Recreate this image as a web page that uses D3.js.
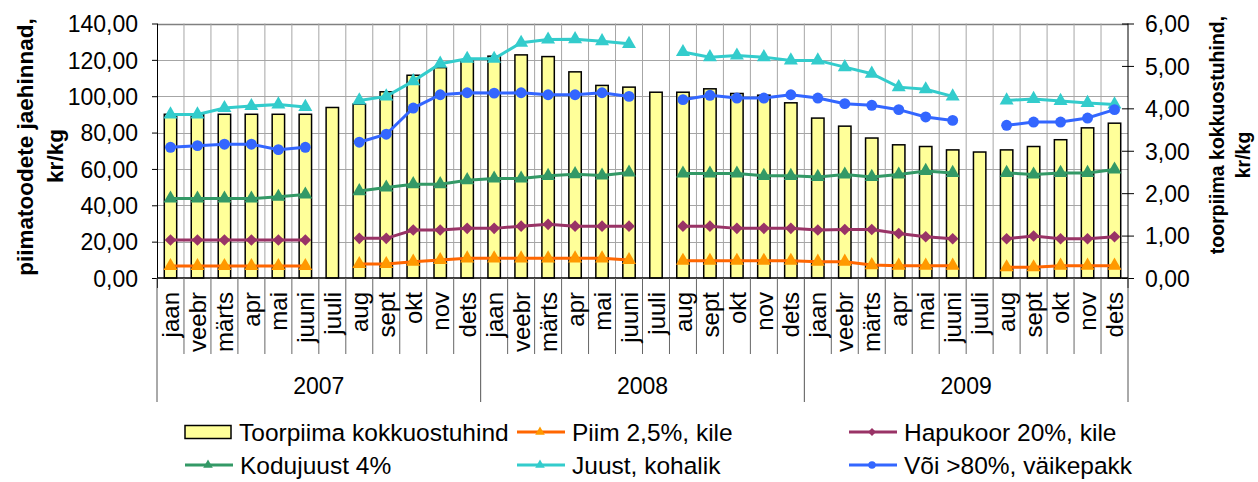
<!DOCTYPE html>
<html>
<head>
<meta charset="utf-8">
<script src="https://cdn.jsdelivr.net/npm/d3@7"></script>
<style>
  body { margin: 0; background: #fff; }
  svg { display: block; font-family: "Liberation Sans", Arial, sans-serif; }
</style>
</head>
<body>
<svg id="chart" width="1258" height="482"></svg>
<script>
// Month and year labels for the category axis
const monthNames = ["jaan", "veebr", "märts", "apr", "mai", "juuni", "juuli", "aug", "sept", "okt", "nov", "dets"]
const years = ["2007", "2008", "2009"]

// Toorpiima kokkuostuhind (right axis, kr/kg)
const toorpiima = [
  3.86, 3.86, 3.86, 3.86, 3.86, 3.86, 4.02, 4.10, 4.39, 4.78, 4.96, 5.11,
  5.23, 5.26, 5.22, 4.86, 4.54, 4.50, 4.38, 4.38, 4.46, 4.35, 4.31, 4.13,
  3.77, 3.58, 3.30, 3.14, 3.10, 3.02, 2.97, 3.02, 3.10, 3.26, 3.54, 3.65
]

// Retail prices (left axis, kr/kg); null = no data for juuli
const piim = [
  6.6, 6.6, 6.6, 6.6, 6.6, 6.6, null, 7.7, 7.7, 9.0, 9.9, 10.8,
  10.8, 10.8, 10.8, 10.8, 10.8, 9.9, null, 9.5, 9.5, 9.5, 9.5, 9.5,
  9.0, 9.0, 7.1, 6.8, 6.8, 6.8, null, 5.9, 5.9, 6.8, 6.8, 6.8
]
const hapukoor = [
  20.9, 20.9, 20.9, 20.9, 20.9, 20.9, null, 21.8, 21.8, 26.4, 26.4, 27.3,
  27.3, 28.5, 29.5, 28.5, 28.5, 28.5, null, 28.5, 28.5, 27.3, 27.3, 27.3,
  26.4, 26.7, 26.7, 24.5, 22.7, 21.6, null, 21.6, 23.1, 21.6, 21.6, 22.7
]
const kodujuust = [
  43.7, 43.7, 43.7, 43.7, 44.7, 45.9, null, 47.8, 49.8, 51.6, 51.6, 53.8,
  54.7, 54.7, 56.2, 57.1, 56.4, 58.0, null, 57.5, 57.5, 57.5, 56.2, 56.2,
  55.6, 56.9, 55.6, 56.9, 58.9, 57.8, null, 57.8, 56.9, 57.8, 57.8, 59.7
]
const juust = [
  90.0, 90.0, 93.5, 94.6, 95.5, 94.1, null, 97.7, 99.9, 108.3, 117.9, 120.6,
  120.6, 129.4, 131.2, 131.4, 130.3, 128.8, null, 124.3, 121.5, 122.4, 121.5, 119.7,
  119.7, 116.0, 112.4, 105.0, 103.8, 99.9, null, 97.7, 98.5, 97.4, 96.3, 95.5
]
const voi = [
  71.9, 72.8, 73.6, 73.6, 70.6, 71.9, null, 74.7, 79.1, 93.5, 100.8, 101.9,
  101.7, 101.9, 100.8, 100.8, 101.9, 99.9, null, 98.1, 100.5, 99.0, 99.0, 100.8,
  99.0, 95.9, 95.0, 92.6, 88.6, 86.7, null, 84.0, 85.8, 85.8, 88.0, 92.6
]

// Axis tick values
const leftTicks = [0, 20, 40, 60, 80, 100, 120, 140]
const rightTicks = [0, 1, 2, 3, 4, 5, 6]

// Line series with their look
const series = [
  { name: "Piim 2,5%, kile", values: piim, line: "#FF6600", fill: "#FF9900", symbol: "triangle" },
  { name: "Hapukoor 20%, kile", values: hapukoor, line: "#993366", fill: "#993366", symbol: "diamond" },
  { name: "Kodujuust 4%", values: kodujuust, line: "#339966", fill: "#339966", symbol: "triangle" },
  { name: "Juust, kohalik", values: juust, line: "#33CCCC", fill: "#33CCCC", symbol: "triangle" },
  { name: "Või >80%, väikepakk", values: voi, line: "#3366FF", fill: "#3366FF", symbol: "circle" }
]

const svg = d3.select("#chart")
const plot = { left: 157, right: 1128, top: 23.5, bottom: 278 }
const fmt = v => d3.format(".2f")(v).replace(".", ",")

// Scales
const labels = d3.range(36)
const x = d3.scaleBand().domain(labels).range([plot.left, plot.right])
const bw = x.bandwidth()
const yLeft = d3.scaleLinear().domain([0, 140]).range([plot.bottom, plot.top])
const yRight = d3.scaleLinear().domain([0, 6]).range([plot.bottom, plot.top])

// Horizontal gridlines
svg.append("g")
  .selectAll("line")
  .data(leftTicks.slice(1))
  .enter().append("line")
  .attr("x1", plot.left).attr("x2", plot.right)
  .attr("y1", d => Math.round(yLeft(d)) + 0.5).attr("y2", d => Math.round(yLeft(d)) + 0.5)
  .style("stroke", d => d == 140 ? "#808080" : "#a6a6a6")
  .style("stroke-width", d => d == 140 ? 1.5 : 1)

// Vertical gridlines at category boundaries
svg.append("g")
  .selectAll("line")
  .data(d3.range(1, 36))
  .enter().append("line")
  .attr("x1", i => plot.left + i * bw).attr("x2", i => plot.left + i * bw)
  .attr("y1", plot.top).attr("y2", plot.bottom)
  .style("stroke", "#a6a6a6")

// Bars for toorpiima
const barW = bw * 0.46
svg.append("g")
  .selectAll("rect")
  .data(toorpiima)
  .enter().append("rect")
  .attr("x", (d, i) => x(i) + (bw - barW) / 2)
  .attr("y", d => yRight(d))
  .attr("width", barW)
  .attr("height", d => plot.bottom - yRight(d))
  .style("fill", "#FFFF99")
  .style("stroke", "#000")
  .style("stroke-width", 1.5)

// Marker shapes
const symbolFor = (s, size) => {
  if (s == "triangle") return d3.symbol().type(d3.symbolTriangle).size(size)()
  if (s == "diamond") return d3.symbol().type(d3.symbolSquare).size(size * 0.8)()
  return d3.symbol().type(d3.symbolCircle).size(size * 1.1)()
}
const cx = i => x(i) + bw / 2

// Lines and markers
series.forEach(s => {
  const line = d3.line()
    .defined(d => d != null)
    .x((d, i) => cx(i))
    .y(d => yLeft(d))
  svg.append("path")
    .attr("d", line(s.values))
    .style("fill", "none")
    .style("stroke", s.line)
    .style("stroke-width", 3)
  svg.append("g")
    .selectAll("path")
    .data(s.values.map((v, i) => ({ v, i })).filter(d => d.v != null))
    .enter().append("path")
    .attr("d", symbolFor(s.symbol, 85))
    .attr("transform", d => `translate(${cx(d.i)},${yLeft(d.v)})` + (s.symbol == "diamond" ? " rotate(45)" : ""))
    .style("fill", s.fill)
})

// Left axis
const axL = svg.append("g")
  .attr("transform", `translate(${plot.left},0)`)
  .call(d3.axisLeft(yLeft).tickValues(leftTicks).tickSize(5).tickPadding(14).tickFormat(fmt))
axL.selectAll("text").style("font-size", "23px").style("fill", "#000").attr("dy", "0.36em")
axL.selectAll("line, path").style("stroke", "#000")
axL.select(".domain").attr("d", `M0.5,${plot.top}V${plot.bottom + 10}`)

// Right axis (ticks cross the axis)
const axR = svg.append("g")
  .attr("transform", `translate(${plot.right},0)`)
  .call(d3.axisRight(yRight).tickValues(rightTicks).tickSize(6).tickPadding(11).tickFormat(fmt))
axR.selectAll(".tick line").attr("x1", -6)
axR.selectAll("text").style("font-size", "23px").style("fill", "#000").attr("dy", "0.36em")
axR.selectAll("line, path").style("stroke", "#000")
axR.select(".domain").attr("d", `M0,${plot.top}V${plot.bottom + 10}`)

// Category axis line
svg.append("line")
  .attr("x1", plot.left).attr("x2", plot.right)
  .attr("y1", plot.bottom).attr("y2", plot.bottom)
  .style("stroke", "#000").style("stroke-width", 1.5)

// Month separators and year separators
svg.append("g")
  .selectAll("line")
  .data(d3.range(0, 37))
  .enter().append("line")
  .attr("x1", i => plot.left + i * bw).attr("x2", i => plot.left + i * bw)
  .attr("y1", plot.bottom).attr("y2", i => i % 12 == 0 ? 402 : 354)
  .style("stroke", i => i % 12 == 0 ? "#555" : "#666")

// Month labels, rotated
svg.append("g")
  .selectAll("text")
  .data(labels)
  .enter().append("text")
  .attr("transform", i => `translate(${cx(i)},292) rotate(-90)`)
  .attr("text-anchor", "end")
  .attr("dy", "0.36em")
  .style("font-size", "24px")
  .text(i => monthNames[i % 12])

// Year labels
svg.append("g")
  .selectAll("text")
  .data(years)
  .enter().append("text")
  .attr("x", (d, k) => plot.left + (k * 12 + 6) * bw)
  .attr("y", 386)
  .attr("text-anchor", "middle")
  .attr("dy", "0.36em")
  .style("font-size", "23px")
  .text(d => d)

// Axis titles
const title = (txt, tx, ty, size) => svg.append("text")
  .attr("transform", `translate(${tx},${ty}) rotate(-90)`)
  .attr("text-anchor", "middle")
  .attr("dy", "0.36em")
  .style("font-size", size)
  .style("font-weight", "bold")
  .text(txt)
title("piimatoodete jaehinnad,", 25, 147, "22.5px")
title("kr/kg", 55, 156, "22.5px")
title("toorpiima kokkuostuhind,", 1217, 135, "19.5px")
title("kr/kg", 1243, 155, "19.5px")

// Legend
const legendItems = [
  { name: "Toorpiima kokkuostuhind", bar: true },
  series[0], series[1], series[2], series[3], series[4]
]
const colX = [185, 517, 849], rowY = [432, 465]
legendItems.forEach((d, k) => {
  const lx = colX[k % 3], ly = rowY[Math.floor(k / 3)]
  const g = svg.append("g").attr("transform", `translate(${lx},${ly})`)
  if (d.bar) {
    g.append("rect").attr("x", 0).attr("y", -6.5).attr("width", 46).attr("height", 13)
      .style("fill", "#FFFF99").style("stroke", "#000").style("stroke-width", 1.5)
  } else {
    g.append("line").attr("x1", 0).attr("x2", 48).attr("y1", 0).attr("y2", 0)
      .style("stroke", d.line).style("stroke-width", 3)
    g.append("path")
      .attr("d", symbolFor(d.symbol, 40))
      .attr("transform", "translate(23,0)" + (d.symbol == "diamond" ? " rotate(45)" : ""))
      .style("fill", d.fill)
  }
  g.append("text")
    .attr("x", d.bar ? 54 : 55)
    .attr("dy", "0.36em")
    .style("font-size", "24.5px")
    .text(d.name)
})
</script>
</body>
</html>
